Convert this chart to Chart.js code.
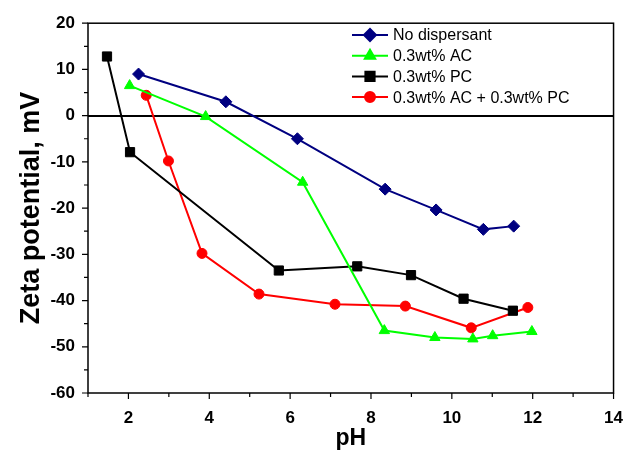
<!DOCTYPE html>
<html>
<head>
<meta charset="utf-8">
<script src="https://cdn.jsdelivr.net/npm/chart.js@4"></script>
<style>
  html, body { margin: 0; padding: 0; background: #fff; }
  #wrap { width: 630px; height: 456px; }
</style>
</head>
<body>
<div id="wrap"><canvas id="c" width="630" height="456"></canvas></div>
<script>
// values
const seriesNames = ['No dispersant', '0.3wt% AC', '0.3wt% PC', '0.3wt% AC + 0.3wt% PC'];

const noDispPH = [2.25, 4.41, 6.18, 8.35, 9.61, 10.78, 11.53];
const noDispZeta = [9.0, 3.0, -5.0, -15.9, -20.4, -24.6, -23.9];

const acPH = [2.03, 3.91, 6.31, 8.33, 9.58, 10.52, 11.01, 11.98];
const acZeta = [6.5, -0.2, -14.4, -46.5, -48.0, -48.3, -47.6, -46.7];

const pcPH = [1.47, 2.04, 5.72, 7.66, 8.99, 10.29, 11.51];
const pcZeta = [12.8, -7.9, -33.5, -32.6, -34.5, -39.6, -42.2];

const bothPH = [2.44, 2.99, 3.82, 5.23, 7.11, 8.85, 10.48, 11.88];
const bothZeta = [4.4, -9.8, -29.8, -38.6, -40.8, -41.2, -45.9, -41.5];

const xTicks = [2, 4, 6, 8, 10, 12, 14];
const yTicks = [20, 10, 0, -10, -20, -30, -40, -50, -60];

const pts = (xs, ys) => xs.map((x, i) => ({x: x, y: ys[i]}));

const FONT = '"Liberation Sans", Arial, sans-serif';

// frame, minor/major ticks, legend
const decor = {
  id: 'decor',
  afterDraw(chart) {
    const {ctx, chartArea: a, scales} = chart;
    const xs = scales.x, ys = scales.y;
    ctx.save();
    ctx.strokeStyle = '#000';
    ctx.lineWidth = 1.5;
    ctx.strokeRect(a.left, a.top, a.right - a.left, a.bottom - a.top);
    ctx.lineWidth = 1.2;
    ctx.beginPath();
    for (let v = 1; v <= 14; v++) {
      const px = xs.getPixelForValue(v);
      const len = v % 2 === 0 ? 6 : 4;
      ctx.moveTo(px, a.bottom); ctx.lineTo(px, a.bottom + len);
    }
    for (let v = -60; v <= 20; v += 5) {
      const py = ys.getPixelForValue(v);
      const len = v % 10 === 0 ? 6 : 4;
      ctx.moveTo(a.left, py); ctx.lineTo(a.left - len, py);
    }
    ctx.stroke();

    // legend
    const lx = 352, tx = 393;
    let ly = 35;
    ctx.font = '16px ' + FONT;
    ctx.textBaseline = 'middle';
    chart.data.datasets.forEach((ds) => {
      ctx.strokeStyle = ds.borderColor;
      ctx.lineWidth = 2;
      ctx.beginPath();
      ctx.moveTo(lx, ly); ctx.lineTo(lx + 36, ly);
      ctx.stroke();
      ctx.fillStyle = ds.pointBackgroundColor;
      ctx.strokeStyle = ds.pointBackgroundColor;
      Chart.helpers.drawPoint(ctx, {
        pointStyle: ds.pointStyle, radius: ds.pointRadius, borderWidth: 1
      }, lx + 18, ly);
      ctx.fillStyle = '#000';
      ctx.fillText(ds.label, tx, ly + 1);
      ly += 20.7;
    });
    ctx.restore();
  }
};

function line(label, data, color, style, radius) {
  return {
    label: label, data: data,
    borderColor: color, backgroundColor: color,
    pointBackgroundColor: color, pointBorderColor: color,
    borderWidth: 2, pointStyle: style, pointRadius: radius, pointBorderWidth: 1,
    showLine: true, tension: 0
  };
}

new Chart(document.getElementById('c'), {
  type: 'scatter',
  data: {
    datasets: [
      line(seriesNames[0], pts(noDispPH, noDispZeta), '#000080', 'rectRot', 6),
      line(seriesNames[1], pts(acPH, acZeta), '#00ff00', 'triangle', 6),
      line(seriesNames[2], pts(pcPH, pcZeta), '#000000', 'rect', 6.5),
      line(seriesNames[3], pts(bothPH, bothZeta), '#ff0000', 'circle', 5)
    ]
  },
  options: {
    responsive: false,
    animation: false,
    layout: { padding: { top: 19, right: 14, left: 0, bottom: 0 } },
    plugins: { legend: { display: false }, tooltip: { enabled: false } },
    scales: {
      x: {
        type: 'linear', min: 1, max: 14,
        afterFit(s) { s.height = 63; },
        afterBuildTicks(s) { s.ticks = xTicks.map(v => ({value: v})); },
        ticks: { color: '#000', padding: 7, font: { family: FONT, size: 17, weight: 'bold' } },
        grid: { display: false },
        border: { display: false },
        title: { display: true, text: 'pH', color: '#000', padding: { top: 11 },
                 font: { family: FONT, size: 23, weight: 'bold' } }
      },
      y: {
        type: 'linear', min: -60, max: 20,
        afterFit(s) { s.width = 88; },
        afterBuildTicks(s) { s.ticks = yTicks.map(v => ({value: v})); },
        ticks: { color: '#000', padding: 13, font: { family: FONT, size: 17, weight: 'bold' } },
        grid: {
          drawTicks: false,
          color: (c) => c.tick && c.tick.value === 0 ? '#000' : 'rgba(0,0,0,0)',
          lineWidth: 2
        },
        border: { display: false },
        title: { display: true, text: 'Zeta potential, mV', color: '#000', padding: { top: 15, bottom: 0 },
                 font: { family: FONT, size: 27, weight: 'bold' } }
      }
    }
  },
  plugins: [decor]
});
</script>
</body>
</html>
